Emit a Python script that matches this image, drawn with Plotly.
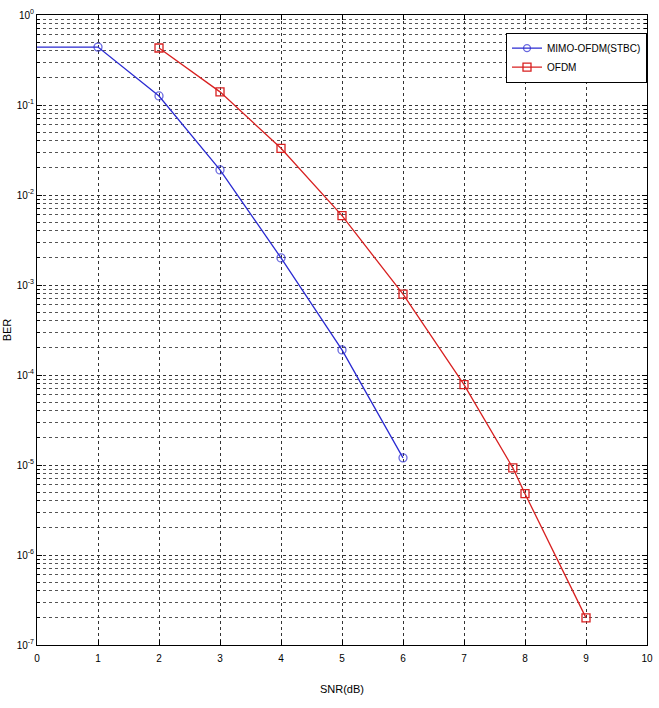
import plotly.graph_objects as go

# Data
snr_blue = [0, 1, 2, 3, 4, 5, 6]
ber_blue = [0.44, 0.44, 0.126, 0.019, 2.0e-3, 1.9e-4, 1.2e-5]
snr_red = [2, 3, 4, 5, 6, 7, 7.8, 8, 9]
ber_red = [0.43, 0.14, 0.033, 5.9e-3, 7.9e-4, 7.8e-5, 9.3e-6, 4.8e-6, 2.0e-7]
name_blue = "MIMO-OFDM(STBC)"
name_red = "OFDM"

x_ticks = list(range(0, 11))
y_tick_exps = [0, -1, -2, -3, -4, -5, -6, -7]
y_tick_vals = [10.0 ** e for e in y_tick_exps]
y_tick_text = ["10<sup>%d</sup>" % e for e in y_tick_exps]
y_minor_vals = [m * 10.0 ** e for e in y_tick_exps[1:] for m in range(2, 10)]

blue = "#2a2ad2"
red = "#d82020"

fig = go.Figure()
fig.add_trace(go.Scatter(
    x=snr_blue, y=ber_blue, mode="lines+markers", name=name_blue,
    line=dict(color=blue, width=1.3),
    marker=dict(symbol="circle-open", color=blue,
                size=[0] + [8] * (len(snr_blue) - 1), line=dict(width=1.3)),
))
fig.add_trace(go.Scatter(
    x=snr_red, y=ber_red, mode="lines+markers", name=name_red,
    line=dict(color=red, width=1.3),
    marker=dict(symbol="square-open", color=red, size=8, line=dict(width=1.3)),
))

axis_common = dict(
    showline=True, linecolor="black", linewidth=1, mirror="ticks",
    ticks="inside", ticklen=5, tickcolor="black",
    showgrid=True, gridcolor="#333333", griddash="dot", gridwidth=1,
    zeroline=False,
    tickfont=dict(family="Liberation Sans, Arial, sans-serif", size=10, color="black"),
)

fig.update_xaxes(
    range=[0, 10], tickvals=x_ticks, ticktext=[str(v) for v in x_ticks],
    ticklabelstandoff=4,
    title=dict(text="SNR(dB)", font=dict(size=11, color="black"), standoff=22),
    **axis_common,
)
fig.update_yaxes(
    type="log", range=[-7, 0], tickvals=y_tick_vals, ticktext=y_tick_text,
    title=dict(text="BER", font=dict(size=11, color="black"), standoff=2),
    minor=dict(tickmode="array", tickvals=y_minor_vals, showgrid=True,
               gridcolor="#555555", griddash="dot", gridwidth=1,
               ticks="inside", ticklen=3, tickcolor="black"),
    **axis_common,
)

fig.update_layout(
    width=659, height=708,
    margin=dict(l=37, r=6, t=15, b=63),
    plot_bgcolor="white", paper_bgcolor="white",
    font=dict(family="Liberation Sans, Arial, sans-serif", size=10, color="black"),
    legend=dict(
        x=1, y=0.972, xanchor="right", yanchor="top",
        bgcolor="white", bordercolor="black", borderwidth=1,
        font=dict(size=10), tracegroupgap=0, itemwidth=30,
    ),
)

fig.write_html("out.html")
